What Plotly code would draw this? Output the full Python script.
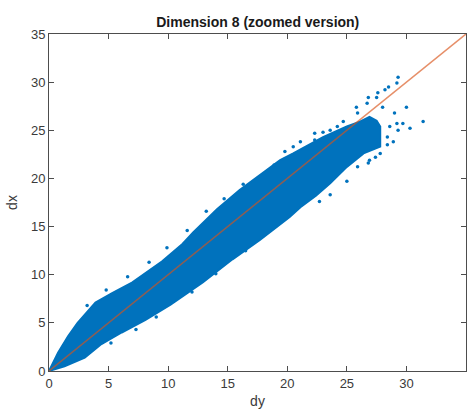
import plotly.graph_objects as go

# Outline of the dense point cloud (dy, dx)
band_dy = [0, 0.3, 0.76, 1.6, 2.4, 3.9, 5.3, 7.0, 8.1, 9.5, 11.2, 12.1, 14.1, 16.0, 18.3,
           19.4, 20.5, 21.1, 23.0, 25.0, 26.1, 26.9, 27.5, 27.8, 27.8,
           26.4, 25.0, 23.6, 22.4, 21.1, 20.2, 17.7, 15.4, 12.9, 10.2, 8.1, 6.1,
           4.4, 3.0, 1.3, 0.4, 0]
band_dx = [0, 0.8, 1.9, 3.6, 5.0, 7.1, 8.1, 9.2, 10.2, 11.4, 13.2, 14.4, 16.8, 18.8, 20.9,
           21.9, 22.6, 23.0, 24.3, 25.4, 25.9, 26.4, 26.0, 25.4, 23.3,
           22.6, 21.2, 19.5, 18.2, 17.0, 16.0, 13.6, 11.6, 9.2, 6.9, 5.3, 4.0,
           2.8, 1.4, 0.5, 0.1, 0]

# Sparse outlying points
out_dy = [29.3, 29.2, 28.5, 28.2, 27.6, 27.5, 26.8, 26.7, 25.8, 25.9, 30.0, 31.4, 30.3, 29.7,
          29.0, 29.2, 29.3, 28.6, 28.4, 28.9, 28.4, 27.8, 27.4, 26.9, 26.8, 25.9, 25.0, 23.6,
          22.7, 22.3, 22.3, 23.0, 23.6, 24.2, 24.7, 21.1, 20.5, 19.8, 28.0,
          16.3, 14.7, 13.2, 11.6, 9.9, 8.4, 6.6, 4.8, 3.2, 18.9,
          7.3, 9.0, 12.0, 14.0, 16.5, 19.0, 5.2]
out_dx = [30.5, 29.9, 29.5, 29.2, 28.9, 28.4, 28.4, 27.8, 27.4, 26.8, 27.4, 25.9, 25.2, 25.7,
          26.8, 25.7, 25.0, 25.4, 24.3, 23.8, 23.5, 22.6, 22.2, 21.9, 21.6, 21.2, 19.7, 18.3,
          17.6, 24.7, 24.0, 24.8, 25.0, 25.4, 25.9, 23.8, 23.3, 22.8, 27.4,
          19.4, 17.9, 16.6, 14.6, 12.8, 11.3, 9.8, 8.4, 6.8, 21.4,
          4.3, 5.6, 8.2, 10.1, 12.5, 15.0, 2.9]

# Reference line
line_dy = [0, 35]
line_dx = [0, 35]

ticks = [0, 5, 10, 15, 20, 25, 30, 35]
blue = "#0072BD"
orange = "rgba(217,83,25,0.65)"

fig = go.Figure()
fig.add_trace(go.Scatter(x=band_dy, y=band_dx, mode="lines", fill="toself",
                         fillcolor=blue, line=dict(color=blue, width=2), hoverinfo="skip"))
fig.add_trace(go.Scatter(x=out_dy, y=out_dx, mode="markers",
                         marker=dict(color=blue, size=3.5)))
fig.add_trace(go.Scatter(x=line_dy, y=line_dx, mode="lines",
                         line=dict(color=orange, width=1.5)))

axis_common = dict(range=[0, 35], tickvals=ticks, ticks="inside", ticklen=5,
                   tickcolor="#4d4d4d", showline=True, linecolor="#4d4d4d", linewidth=1,
                   mirror="ticks", showgrid=False, zeroline=False,
                   tickfont=dict(family="Liberation Sans, Arial", size=13, color="#3a3a3a"))

fig.update_layout(
    width=473, height=414,
    margin=dict(l=49, r=7, t=34, b=43),
    paper_bgcolor="white", plot_bgcolor="white",
    showlegend=False,
    title=dict(text="<b>Dimension 8 (zoomed version)</b>", x=0.545, xanchor="center",
               y=1 - 22 / 414, yanchor="middle",
               font=dict(family="Liberation Sans, Arial", size=14, color="#1a1a1a")),
    xaxis=dict(**axis_common,
               title=dict(text="dy", standoff=6,
                          font=dict(family="Liberation Sans, Arial", size=14, color="#3a3a3a"))),
    yaxis=dict(**axis_common,
               title=dict(text="dx", standoff=10,
                          font=dict(family="Liberation Sans, Arial", size=14, color="#3a3a3a"))),
)

fig.write_html("out.html", config={"displayModeBar": False},
               post_script="document.body.style.margin='0';document.body.style.overflow='hidden';")
